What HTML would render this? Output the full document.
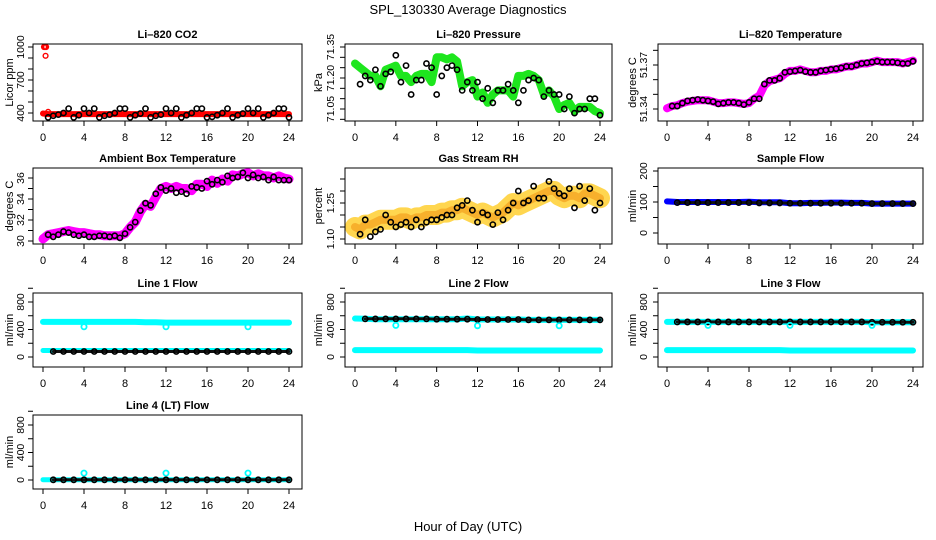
<!DOCTYPE html>
<html><head><meta charset="utf-8"><style>
body{margin:0;background:#fff}
svg{display:block;font-family:"Liberation Sans",sans-serif}
</style></head><body>
<svg id="c" width="936" height="540" viewBox="0 0 936 540">
<text x="468" y="14" text-anchor="middle" font-size="13">SPL_130330  Average Diagnostics</text>
<text x="468" y="531" text-anchor="middle" font-size="13">Hour of Day (UTC)</text>
</svg>
<script>
const hours=[0,0.5,1,1.5,2,2.5,3,3.5,4,4.5,5,5.5,6,6.5,7,7.5,8,8.5,9,9.5,10,10.5,11,11.5,12,12.5,13,13.5,14,14.5,15,15.5,16,16.5,17,17.5,18,18.5,19,19.5,20,20.5,21,21.5,22,22.5,23,23.5,24];
const hours25=[0,1,2,3,4,5,6,7,8,9,10,11,12,13,14,15,16,17,18,19,20,21,22,23,24];
const xTicks=[0,4,8,12,16,20,24];
// CO2
const co2Red=[395,390,390,390,390,390,390,390,390,390,390,390,390,390,390,390,390,390,390,390,390,390,390,390,390,390,390,390,390,390,390,390,390,390,390,390,390,390,390,390,390,390,390,390,390,390,390,390,390];
const co2OutX=[0.1,0.2,0.3,0.25,0.5];
const co2OutY=[1000,1000,1000,920,410];
const co2Black=[null,360,375,385,400,440,360,380,440,400,440,360,375,385,400,440,440,360,380,395,440,360,375,385,440,400,440,360,380,400,440,440,360,365,380,400,440,360,380,395,440,400,440,360,380,400,440,440,360];
// Pressure
const presGreen=[71.27,71.25,71.23,71.21,71.21,71.16,71.24,71.25,71.26,71.21,71.21,71.18,71.21,71.22,71.22,71.18,71.30,71.30,71.29,71.30,71.28,71.16,71.18,71.19,71.11,71.13,71.08,71.12,71.14,71.14,71.14,71.11,71.21,71.21,71.22,71.21,71.19,71.12,71.14,71.11,71.05,71.07,71.08,71.04,71.06,71.06,71.06,71.04,71.03];
const presBlack=[null,71.17,71.21,71.19,71.24,71.16,71.22,71.23,71.31,71.18,71.26,71.12,71.19,71.19,71.27,71.25,71.12,71.21,71.25,71.26,71.24,71.14,71.18,71.14,71.18,71.10,71.15,71.08,71.14,71.14,71.17,71.14,71.08,71.14,71.19,71.20,71.19,71.11,71.14,71.12,71.12,71.05,71.11,71.03,71.05,71.05,71.10,71.10,71.02];
// Li-820 temp
const tempMag=[51.3405,51.342,51.3425,51.344,51.345,51.3455,51.346,51.346,51.346,51.345,51.344,51.344,51.3445,51.3445,51.344,51.3435,51.344,51.347,51.349,51.356,51.359,51.360,51.361,51.364,51.366,51.366,51.367,51.366,51.365,51.365,51.366,51.366,51.367,51.367,51.368,51.369,51.369,51.370,51.371,51.371,51.372,51.373,51.372,51.372,51.372,51.372,51.371,51.372,51.373];
const tempBlack=[null,51.342,51.342,51.344,51.3455,51.346,51.3465,51.346,51.3455,51.345,51.3435,51.344,51.3445,51.3445,51.344,51.343,51.3445,51.347,51.347,51.357,51.3595,51.3595,51.361,51.365,51.3655,51.366,51.3665,51.3655,51.365,51.365,51.366,51.3665,51.367,51.3675,51.368,51.369,51.369,51.370,51.371,51.3715,51.372,51.3725,51.372,51.372,51.372,51.3715,51.371,51.371,51.3725];
// Ambient
const ambMag=[30.2,30.6,30.7,30.8,30.9,31.0,30.9,30.8,30.8,30.7,30.6,30.6,30.5,30.5,30.5,30.5,30.7,31.3,31.8,32.8,33.5,33.3,34.2,35.0,35.2,35.0,35.2,35.0,35.0,34.8,35.4,35.4,35.2,35.8,35.5,35.9,35.7,36.3,36.2,36.4,36.5,36.2,36.4,36.2,36.2,36.0,36.2,36.0,35.9];
const ambBlack=[null,30.6,30.4,30.6,30.9,30.8,30.6,30.5,30.6,30.4,30.4,30.5,30.5,30.4,30.5,30.3,30.7,31.3,31.8,32.9,33.6,33.4,34.5,35.1,34.8,35.0,34.6,34.7,34.5,35.2,35.1,35.0,35.7,35.4,35.8,35.6,36.2,36.0,36.1,36.5,36.0,36.3,36.0,36.1,35.8,36.1,35.8,35.8,35.8];
// RH
const rhCenter=[1.15,1.14,1.16,1.16,1.17,1.18,1.18,1.18,1.18,1.19,1.19,1.18,1.19,1.19,1.20,1.20,1.20,1.21,1.21,1.22,1.22,1.23,1.22,1.21,1.20,1.21,1.20,1.19,1.20,1.21,1.23,1.25,1.24,1.25,1.26,1.27,1.28,1.29,1.30,1.30,1.28,1.27,1.28,1.28,1.27,1.29,1.29,1.28,1.27];
const rhBlack=[null,1.12,1.18,1.11,1.13,1.14,1.20,1.17,1.15,1.16,1.17,1.15,1.18,1.15,1.17,1.18,1.18,1.19,1.20,1.20,1.23,1.24,1.26,1.22,1.17,1.21,1.20,1.16,1.21,1.18,1.22,1.25,1.30,1.25,1.26,1.32,1.27,1.27,1.34,1.31,1.29,1.28,1.31,1.23,1.32,1.26,1.31,1.22,1.25];
// Flows (hourly)
const sampleBlue=[102,100,100,100,100,100,100,100,101,99,99,99,96,96,97,97,98,98,97,97,95,95,95,95,95];
const sampleBlack=[null,98,98,98,98,98,98,98,98,97,97,97,96,96,96,96,96,96,96,96,95,95,95,95,95];
const l1CyanHi=[510,510,510,510,510,510,510,510,510,510,505,505,500,500,500,500,500,500,500,500,500,500,500,500,500];
const l1CyanLo=[95,95,95,95,95,95,95,95,95,95,95,95,95,95,95,95,95,95,95,95,95,95,95,95,95];
const l1Black=[null,80,80,80,80,80,80,80,80,80,80,80,80,80,80,80,80,80,80,80,80,80,80,80,80];
const l2CyanHi=[560,555,550,550,550,550,550,550,550,550,550,560,545,545,545,545,545,540,540,540,540,540,540,540,540];
const l2CyanLo=[100,100,100,100,100,100,100,100,100,100,100,100,95,95,95,95,95,95,95,95,95,95,95,95,95];
const l2Black=[null,555,555,555,555,555,555,555,550,550,550,550,545,545,545,545,545,540,540,540,540,540,540,540,540];
const l3CyanHi=[510,510,510,510,510,510,510,510,510,510,510,510,510,510,510,510,510,510,510,510,505,505,505,505,505];
const l3CyanLo=[100,100,100,100,100,100,100,100,100,100,100,100,95,95,95,95,95,95,95,95,95,95,95,95,95];
const l3Black=[null,510,510,510,510,510,510,510,510,510,510,510,510,510,510,510,510,510,510,510,505,505,505,505,505];
const l4Cyan=[5,5,5,5,5,5,5,5,5,5,5,5,5,5,5,5,5,5,5,5,5,5,5,5,5];
const l4Black=[null,3,3,3,3,3,3,3,3,3,3,3,3,3,3,3,3,3,3,3,3,3,3,3,3];
const dipX=[4,12,20];
const l1Dip=[440,440,440];
const l2Dip=[460,455,455];
const l3Dip=[460,460,460];
const l4Spike=[100,100,100];

const NS='http://www.w3.org/2000/svg';
const svg=document.getElementById('c');
function mk(tag,attrs,parent){const e=document.createElementNS(NS,tag);for(const k in attrs)e.setAttribute(k,attrs[k]);(parent||svg).appendChild(e);return e;}

const cols=[{bx0:33,bx1:302,x0:43,x24:289,tl:20,yl:9},{bx0:345,bx1:612,x0:355,x24:600,tl:330,yl:318},{bx0:658,bx1:923,x0:667,x24:913,tl:643,yl:632}];
const rows=[{by0:44,by1:121},{by0:168,by1:244},{by0:293,by1:367},{by0:415,by1:489}];

function panel(o){
  const c=cols[o.col],r=rows[o.row];
  const g=mk('g',{});
  
  
  const X=v=>c.x0+(c.x24-c.x0)*v/24;
  const Y=v=>o.py1+(o.py2-o.py1)*(v-o.v1)/(o.v2-o.v1);
  const t=mk('text',{x:(c.bx0+c.bx1)/2,y:r.by0-6,'text-anchor':'middle','font-size':11,'font-weight':'bold'},g);t.textContent=o.title;
  
  
  const plot=mk('g',{},g);
  o.draw(plot,X,Y);
  mk('rect',{x:c.bx0,y:r.by0,width:c.bx1-c.bx0,height:r.by1-r.by0,fill:'none',stroke:'#000'},g);
  xTicks.forEach(v=>{mk('line',{x1:X(v),x2:X(v),y1:r.by1,y2:r.by1+5,stroke:'#000'},g);
    const tx=mk('text',{x:X(v),y:r.by1+20,'text-anchor':'middle','font-size':11},g);tx.textContent=v;
    
    });
  o.yticks.forEach(v=>{mk('line',{x1:c.bx0-5,x2:c.bx0,y1:Y(v),y2:Y(v),stroke:'#000'},g);});
  o.ylabels.forEach(v=>{const yy=Y(v);const tx=mk('text',{x:c.tl,y:yy,'text-anchor':'middle','font-size':10.5,transform:`rotate(-90 ${c.tl} ${yy}) translate(0 4)`},g);tx.textContent=v;
    
    });
  const cy=(r.by0+r.by1)/2;
  const yt=mk('text',{x:c.yl,y:cy,'text-anchor':'middle','font-size':11,transform:`rotate(-90 ${c.yl} ${cy}) translate(0 4)`},g);yt.textContent=o.ylab;
  
  
}
function band(p,xs,ys,X,Y,color,w,op){
  let d='';xs.forEach((x,i)=>{if(ys[i]==null)return;d+=(d?'L':'M')+X(x).toFixed(1)+','+Y(ys[i]).toFixed(1);});
  const e=mk('path',{d:d,fill:'none',stroke:color,'stroke-width':w,'stroke-linejoin':'round','stroke-linecap':'round',opacity:op||1},p);
  
  
}
function pts(p,xs,ys,X,Y,color,r,sw){
  xs.forEach((x,i)=>{if(ys[i]==null)return;const e=mk('circle',{cx:X(x),cy:Y(ys[i]),r:r||2.6,fill:'none',stroke:color,'stroke-width':sw||1.6},p);
    
    });
}
function chain(p,xs,ys,X,Y){band(p,xs,ys,X,Y,'#111',3);pts(p,xs,ys,X,Y,'#000',2.6,1.6);}

panel({col:0,row:0,name:'panel-co2',title:'Li\u2013820 CO2',ylab:'Licor ppm',v1:400,v2:1000,py1:113,py2:47,
  yticks:[400,500,600,700,800,900,1000],ylabels:[400,700,1000],
  draw:(p,X,Y)=>{band(p,hours,co2Red,X,Y,'#f00',6);pts(p,co2OutX,co2OutY,X,Y,'#f00',2.4,1.4);pts(p,hours,co2Black,X,Y,'#000');}});
panel({col:1,row:0,name:'panel-pressure',title:'Li\u2013820 Pressure',ylab:'kPa',v1:71.05,v2:71.35,py1:109,py2:47,
  yticks:[71.0,71.05,71.1,71.15,71.2,71.25,71.3,71.35],ylabels:['71.05','71.20','71.35'],
  draw:(p,X,Y)=>{band(p,hours,presGreen,X,Y,'#1ee61e',8);pts(p,hours,presBlack,X,Y,'#000');}});
panel({col:2,row:0,name:'panel-li820-temp',title:'Li\u2013820 Temperature',ylab:'degrees C',v1:51.34,v2:51.37,py1:109,py2:65,
  yticks:[51.34,51.35,51.36,51.37,51.38],ylabels:['51.34','51.37'],
  draw:(p,X,Y)=>{band(p,hours,tempMag,X,Y,'#f0f',8);pts(p,hours,tempBlack,X,Y,'#000');}});
panel({col:0,row:1,name:'panel-ambient-temp',title:'Ambient Box Temperature',ylab:'degrees C',v1:30,v2:36,py1:241,py2:178,
  yticks:[30,31,32,33,34,35,36],ylabels:[30,32,34,36],
  draw:(p,X,Y)=>{band(p,hours,ambMag,X,Y,'#f0f',9);pts(p,hours,ambBlack,X,Y,'#000');}});
panel({col:1,row:1,name:'panel-gas-rh',title:'Gas Stream RH',ylab:'percent',v1:1.10,v2:1.25,py1:239,py2:203,
  yticks:[1.10,1.15,1.20,1.25,1.30,1.35],ylabels:['1.10','1.25'],
  draw:(p,X,Y)=>{band(p,hours,rhCenter,X,Y,'#ffd23c',20,0.9);band(p,hours,rhCenter,X,Y,'#f5a623',8,0.8);pts(p,hours,rhBlack,X,Y,'#000');}});
panel({col:2,row:1,name:'panel-sample-flow',title:'Sample Flow',ylab:'ml/min',v1:0,v2:200,py1:233,py2:171,
  yticks:[0,50,100,150,200],ylabels:[0,100,200],
  draw:(p,X,Y)=>{band(p,hours25,sampleBlue,X,Y,'#00f',6);chain(p,hours25,sampleBlack,X,Y);}});
panel({col:0,row:2,name:'panel-line1-flow',title:'Line 1 Flow',ylab:'ml/min',v1:0,v2:800,py1:357,py2:302,
  yticks:[0,200,400,600,800,1000],ylabels:[0,400,800],
  draw:(p,X,Y)=>{band(p,hours25,l1CyanHi,X,Y,'#0ff',6);band(p,hours25,l1CyanLo,X,Y,'#0ff',5);chain(p,hours25,l1Black,X,Y);pts(p,dipX,l1Dip,X,Y,'#0ff',2.6,1.8);}});
panel({col:1,row:2,name:'panel-line2-flow',title:'Line 2 Flow',ylab:'ml/min',v1:0,v2:800,py1:357,py2:302,
  yticks:[0,200,400,600,800,1000],ylabels:[0,400,800],
  draw:(p,X,Y)=>{band(p,hours25,l2CyanHi,X,Y,'#0ff',6);band(p,hours25,l2CyanLo,X,Y,'#0ff',6);chain(p,hours25,l2Black,X,Y);pts(p,dipX,l2Dip,X,Y,'#0ff',2.6,1.8);}});
panel({col:2,row:2,name:'panel-line3-flow',title:'Line 3 Flow',ylab:'ml/min',v1:0,v2:800,py1:357,py2:302,
  yticks:[0,200,400,600,800,1000],ylabels:[0,400,800],
  draw:(p,X,Y)=>{band(p,hours25,l3CyanHi,X,Y,'#0ff',6);band(p,hours25,l3CyanLo,X,Y,'#0ff',6);chain(p,hours25,l3Black,X,Y);pts(p,dipX,l3Dip,X,Y,'#0ff',2.6,1.8);}});
panel({col:0,row:3,name:'panel-line4-flow',title:'Line 4 (LT) Flow',ylab:'ml/min',v1:0,v2:800,py1:480,py2:425,
  yticks:[0,200,400,600,800,1000],ylabels:[0,400,800],
  draw:(p,X,Y)=>{band(p,hours25,l4Cyan,X,Y,'#0ff',5);chain(p,hours25,l4Black,X,Y);pts(p,dipX,l4Spike,X,Y,'#0ff',2.6,1.8);}});
</script>
</body></html>
